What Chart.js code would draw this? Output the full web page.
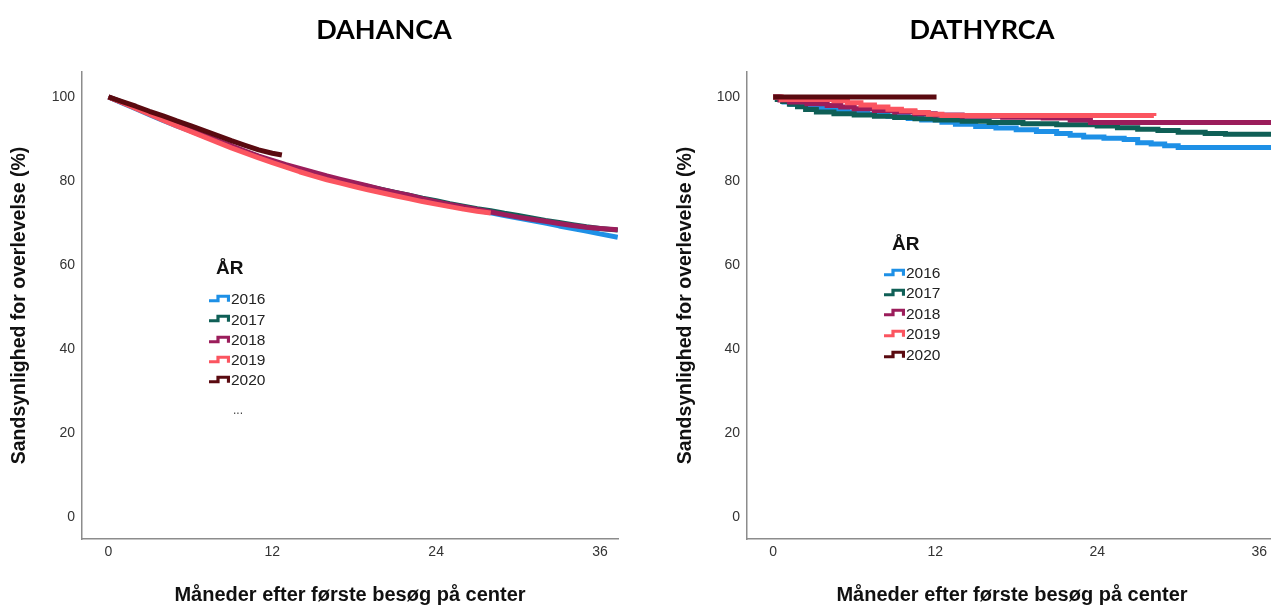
<!DOCTYPE html>
<html><head><meta charset="utf-8">
<script src="https://cdn.jsdelivr.net/npm/chart.js@4/dist/chart.umd.min.js"></script>
<style>
html,body{margin:0;padding:0;background:#fff;}
body{width:1271px;height:605px;overflow:hidden;position:relative;font-family:"Liberation Sans",Arial,sans-serif;}
canvas{position:absolute;top:0;}
.c{position:absolute;transform:translate(-50%,-50%);white-space:nowrap;}
.head{font-family:Lato,"Liberation Sans",sans-serif;font-weight:700;font-size:27px;color:#000;}
.lgt{position:absolute;transform:translateY(-50%);font-weight:700;font-size:19px;color:#111;white-space:nowrap;}
.lgi{position:absolute;transform:translateY(-50%);font-size:15.5px;color:#222;white-space:nowrap;line-height:1;}
.lgi svg{position:absolute;left:-22px;top:50%;transform:translateY(-55%);}
</style>
</head><body>
<canvas id="c1" width="640" height="605" style="left:0px;width:640px;height:605px"></canvas>
<canvas id="c2" width="660" height="605" style="left:640px;width:660px;height:605px"></canvas>
<div id="overlay"></div>
<script>
// ---- data ----
const years = ['2016','2017','2018','2019','2020'];
const colors = ['#1e90e6','#0f5f56','#9b1d5b','#fb5560','#5a0a10'];
const panelTitles = ['DAHANCA','DATHYRCA'];
const xTitle = 'Måneder efter første besøg på center';
const yTitle = 'Sandsynlighed for overlevelse (%)';
const xTicks = [0,12,24,36];
const yTicks = [0,20,40,60,80,100];

// DAHANCA (left)
const dahT = [0,1,2,3,4,5,6,7,8,9,10,11,12,13,14,15,16,17,18,19,20,21,22,23,24,25,26,27,28,29,30,31,32,33,34,35,36,37.3];
const dah2016 = [100,98.6,97.2,95.8,94.4,93.1,91.9,90.7,89.5,88.2,87.0,85.8,84.7,83.6,82.7,81.8,80.9,80.1,79.3,78.6,77.9,77.2,76.5,75.7,75.0,74.3,73.6,73.0,72.4,71.8,71.2,70.6,70.0,69.3,68.7,68.1,67.4,66.6];
const dah2017 = [100,98.8,97.4,96.0,94.6,93.3,92.0,90.7,89.4,88.1,86.9,85.8,84.7,83.5,82.5,81.6,80.8,80.1,79.4,78.7,78.0,77.3,76.6,75.9,75.3,74.6,74.0,73.4,72.9,72.3,71.8,71.2,70.6,70.1,69.6,69.1,68.7,68.3];
const dah2018 = [100,98.7,97.4,96.1,94.8,93.5,92.2,90.9,89.6,88.4,87.1,85.9,84.9,83.9,83.0,82.1,81.2,80.4,79.6,78.8,78.0,77.3,76.6,75.8,75.1,74.4,73.8,73.2,72.6,72.0,71.4,70.9,70.4,69.9,69.4,69.0,68.7,68.4];
const dah2019T = [0,1,2,3,4,5,6,7,8,9,10,11,12,13,14,15,16,17,18,19,20,21,22,23,24,25,26,27,28];
const dah2019 = [100,98.7,97.3,95.9,94.5,93.1,91.8,90.5,89.2,87.9,86.7,85.5,84.4,83.3,82.2,81.2,80.3,79.5,78.7,77.9,77.2,76.5,75.8,75.1,74.5,73.9,73.3,72.8,72.4];
const dah2020T = [0,1,2,3,4,5,6,7,8,9,10,11,12,12.7];
const dah2020 = [100,98.9,97.8,96.6,95.5,94.3,93.2,92.0,90.8,89.6,88.5,87.4,86.6,86.2];

// DATHYRCA (right)
const dat2016T = [0,0.4,0.8,1.3,2,2.8,4,5.5,7,8.5,10,11,12.5,13.5,15,16.5,18,19.5,21,22,23,24.5,26,27,28,29,30,37.3];
const dat2016 = [100,99.4,98.8,98.3,97.8,97.3,96.9,96.4,95.9,95.4,94.9,94.5,94.0,93.5,93.0,92.6,92.2,91.8,91.3,90.9,90.5,90.2,89.9,89.1,88.8,88.4,88.0,88.0];
const dat2017T = [0,0.3,0.7,1.2,1.8,2.4,3.2,4.5,6,7.5,9,10.5,12,14,16,18.5,21,24,25.5,27,28.5,30,32,33.5,37.3];
const dat2017 = [100,99.4,98.9,98.3,97.7,97.0,96.4,96.0,95.7,95.4,95.1,94.8,94.5,94.2,93.9,93.6,93.4,93.1,92.7,92.3,92.0,91.6,91.3,91.1,91.1];
const dat2018T = [0,0.5,1.2,2.5,4,5,6,7.5,9,10.5,12,14,17,20,22,23.5,37.3];
const dat2018 = [100,99.3,98.8,98.4,98.0,97.6,97.2,96.8,96.4,96.0,95.7,95.4,95.2,95.0,94.5,93.9,93.9];
const dat2019T = [0,0.6,4.5,5.5,6.5,7.5,8.5,9.5,10.5,11.5,12.5,28.2];
const dat2019 = [100,99.4,99.1,98.6,98.1,97.6,97.1,96.7,96.3,95.9,95.6,95.5];
const dat2020T = [0,12.1];
const dat2020 = [100,100];

// ---- build ----
function pts(t, v){ return t.map((x,i)=>({x:x, y:v[i]})); }
function ds(i, t, v, stepped){
  return {label: years[i], data: pts(t,v), borderColor: colors[i], backgroundColor: colors[i],
    borderWidth: 5, pointRadius: 0, fill: false, tension: 0, stepped: stepped,
    borderJoinStyle: stepped ? 'miter' : 'round', order: 4 - i};
}
function makeChart(id, datasets, yWidth, yTitlePad, padRight){
  return new Chart(document.getElementById(id), {
    type: 'line',
    data: {datasets: datasets},
    options: {
      responsive: false, animation: false, devicePixelRatio: 1,
      layout: {padding: {top: 72, right: padRight, left: 0, bottom: 0}},
      plugins: {legend: {display: false}, tooltip: {enabled: false}, title: {display: false}},
      scales: {
        x: {type: 'linear', min: -1.94, max: 37.32,
          afterBuildTicks: s => { s.ticks = xTicks.map(v => ({value: v})); },
          afterFit: s => { s.height = 66; },
          grid: {display: false, drawTicks: false},
          border: {display: true, color: '#8c8c8c', width: 1.5},
          ticks: {padding: 5, color: '#333', font: {family: 'Liberation Sans', size: 14}, maxRotation: 0, callback: v => String(v)},
          title: {display: true, text: xTitle, color: '#111', font: {family: 'Liberation Sans', size: 20, weight: 'bold', lineHeight: 1}, padding: {top: 0, bottom: 0}}
        },
        y: {type: 'linear', min: -5.24, max: 105.95,
          afterBuildTicks: s => { s.ticks = yTicks.map(v => ({value: v})); },
          afterFit: s => { s.width = yWidth; },
          grid: {display: false, drawTicks: false},
          border: {display: true, color: '#8c8c8c', width: 1.5},
          ticks: {padding: 7, color: '#333', font: {family: 'Liberation Sans', size: 14}, callback: v => String(v)},
          title: {display: true, text: yTitle, color: '#111', font: {family: 'Liberation Sans', size: 19.5, weight: 'bold', lineHeight: 1}, padding: {top: yTitlePad, bottom: 0}}
        }
      }
    }
  });
}

makeChart('c1', [
  ds(0, dahT, dah2016, false), ds(1, dahT, dah2017, false), ds(2, dahT, dah2018, false),
  ds(3, dah2019T, dah2019, false), ds(4, dah2020T, dah2020, false)
], 82, 10, 22);

makeChart('c2', [
  ds(0, dat2016T, dat2016, true), ds(1, dat2017T, dat2017, true), ds(2, dat2018T, dat2018, true),
  ds(3, dat2019T, dat2019, true), ds(4, dat2020T, dat2020, true)
], 107, 36, 23);

// ---- overlay text: headings and legends ----
const ov = document.getElementById('overlay');
function add(html, cls, style){ const d = document.createElement('div'); d.className = cls; d.setAttribute('style', style); d.innerHTML = html; ov.appendChild(d); return d; }
add(panelTitles[0], 'c head', 'left:384px;top:28px;');
add(panelTitles[1], 'c head', 'left:982px;top:28px;');
function legend(xText, yHead, xHead, yItems){
  add('ÅR', 'lgt', 'left:' + xHead + 'px;top:' + yHead + 'px;');
  years.forEach((yr, i) => {
    const svg = '<svg width="21" height="10" viewBox="0 0 21 10"><path d="M0 7 H9 V2.5 H19.5 V8" fill="none" stroke="' + colors[i] + '" stroke-width="3.2"/></svg>';
    add(svg + yr, 'lgi', 'left:' + xText + 'px;top:' + yItems[i] + 'px;');
  });
}
legend(231, 268, 216, [299,319.5,340,360,380]);
legend(906, 244, 892, [273,293,313.5,334,355]);
add('...', 'c', 'left:238px;top:410px;font-size:12px;color:#444;');
</script>
</body></html>
